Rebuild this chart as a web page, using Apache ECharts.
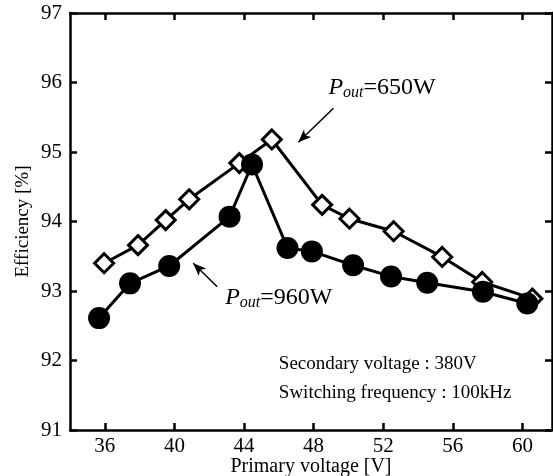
<!DOCTYPE html>
<html>
<head>
<meta charset="utf-8">
<script src="https://cdn.jsdelivr.net/npm/echarts@6/dist/echarts.min.js"></script>
<style>
    html, body { margin: 0; padding: 0; background: #fff; }
    #main { width: 553px; height: 476px; }
</style>
</head>
<body>
<div id="main"></div>
<script>
// Pout = 650W (open diamonds)
var volt650 = [35.96, 37.91, 39.5, 40.85, 43.73, 45.6, 48.49, 50.06, 52.6, 55.39, 57.69, 60.57];
var eff650 = [93.40, 93.66, 94.02, 94.32, 94.84, 95.18, 94.24, 94.04, 93.86, 93.49, 93.13, 92.89];
// Pout = 960W (filled circles)
var volt960 = [35.67, 37.45, 39.7, 43.17, 44.46, 46.5, 47.9, 50.27, 52.45, 54.53, 57.73, 60.28];
var eff960 = [92.61, 93.11, 93.36, 94.07, 94.82, 93.62, 93.57, 93.37, 93.21, 93.12, 92.99, 92.82];

var xTicks = [36, 40, 44, 48, 52, 56, 60];

var FONT = '"Liberation Serif", "DejaVu Serif", serif';

function pairs(xs, ys) {
    var out = [];
    for (var i = 0; i < xs.length; i++) out.push([xs[i], ys[i]]);
    return out;
}

function xAxisDef(pos, showLabel) {
    return {
        type: 'value', position: pos, min: 34, max: 61.7, interval: 4,
        name: showLabel ? 'Primary voltage [V]' : '',
        nameLocation: 'middle', nameGap: 27, nameMoveOverlap: false,
        nameTextStyle: { fontFamily: FONT, fontSize: 20, color: '#000' },
        axisLine: { show: true, onZero: false, lineStyle: { color: '#000', width: 2.5 } },
        axisTick: { show: true, inside: true, length: 7, lineStyle: { color: '#000', width: 2.5 },
            customValues: xTicks },
        axisLabel: { show: showLabel, fontFamily: FONT, fontSize: 21, color: '#000', margin: 6,
            customValues: xTicks },
        splitLine: { show: false }
    };
}

function yAxisDef(pos, showLabel) {
    return {
        type: 'value', position: pos, min: 91, max: 97, interval: 1,
        name: showLabel ? 'Efficiency [%]' : '',
        nameLocation: 'middle', nameGap: 37, nameMoveOverlap: false,
        nameTextStyle: { fontFamily: FONT, fontSize: 19, color: '#000' },
        axisLine: { show: true, onZero: false, lineStyle: { color: '#000', width: 2.5 } },
        axisTick: { show: true, inside: true, length: 7, lineStyle: { color: '#000', width: 2.5 } },
        axisLabel: { show: showLabel, fontFamily: FONT, fontSize: 21, color: '#000', margin: 8 },
        splitLine: { show: false }
    };
}

var chart = echarts.init(document.getElementById('main'));
var option = {
    animation: false,
    backgroundColor: '#fff',
    grid: { left: 70, top: 13, right: 1, bottom: 46, outerBoundsMode: 'none', containLabel: false },
    xAxis: [xAxisDef('bottom', true), xAxisDef('top', false)],
    yAxis: [yAxisDef('left', true), yAxisDef('right', false)],
    series: [
        {
            name: 'Pout=650W', type: 'line', data: pairs(volt650, eff650),
            symbol: 'diamond', symbolSize: 19,
            lineStyle: { color: '#000', width: 3 },
            itemStyle: { color: '#fff', borderColor: '#000', borderWidth: 3 },
            z: 2
        },
        {
            name: 'Pout=960W', type: 'line', data: pairs(volt960, eff960),
            symbol: 'circle', symbolSize: 22,
            lineStyle: { color: '#000', width: 3 },
            itemStyle: { color: '#000', borderColor: '#000', borderWidth: 0 },
            z: 3,
            markLine: {
                silent: true, symbol: ['none', 'arrow'], symbolSize: [8, 13],
                lineStyle: { color: '#000', width: 1.5, type: 'solid' },
                label: { show: false },
                data: [
                    [{ coord: [49.14, 95.63] }, { coord: [47.12, 95.14] }],
                    [{ coord: [42.46, 93.06] }, { coord: [41.08, 93.40] }]
                ]
            }
        }
    ]
};
chart.setOption(option);

// annotation texts placed in data coordinates
var labelStyle = {
    rich: {
        p: { fontFamily: FONT, fontSize: 24, fontStyle: 'italic', color: '#000' },
        s: { fontFamily: FONT, fontSize: 16, fontStyle: 'italic', color: '#000', padding: [10, 0, 0, 0] },
        n: { fontFamily: FONT, fontSize: 24, color: '#000' }
    }
};
var p650 = chart.convertToPixel({ gridIndex: 0 }, [48.85, 95.92]);
var p960 = chart.convertToPixel({ gridIndex: 0 }, [42.92, 92.9]);
var note = chart.convertToPixel({ gridIndex: 0 }, [46.0, 92.16]);
chart.setOption({
    graphic: [
        { type: 'text', x: p650[0], y: p650[1],
          style: Object.assign({ text: '{p|P}{s|out}{n|=650W}', verticalAlign: 'middle' }, labelStyle) },
        { type: 'text', x: p960[0], y: p960[1],
          style: Object.assign({ text: '{p|P}{s|out}{n|=960W}', verticalAlign: 'middle' }, labelStyle) },
        { type: 'text', x: note[0], y: note[1],
          style: { text: 'Secondary voltage : 380V\nSwitching frequency : 100kHz',
                   fontFamily: FONT, fontSize: 19, lineHeight: 29, fill: '#000', verticalAlign: 'top' } }
    ]
});
</script>
</body>
</html>
